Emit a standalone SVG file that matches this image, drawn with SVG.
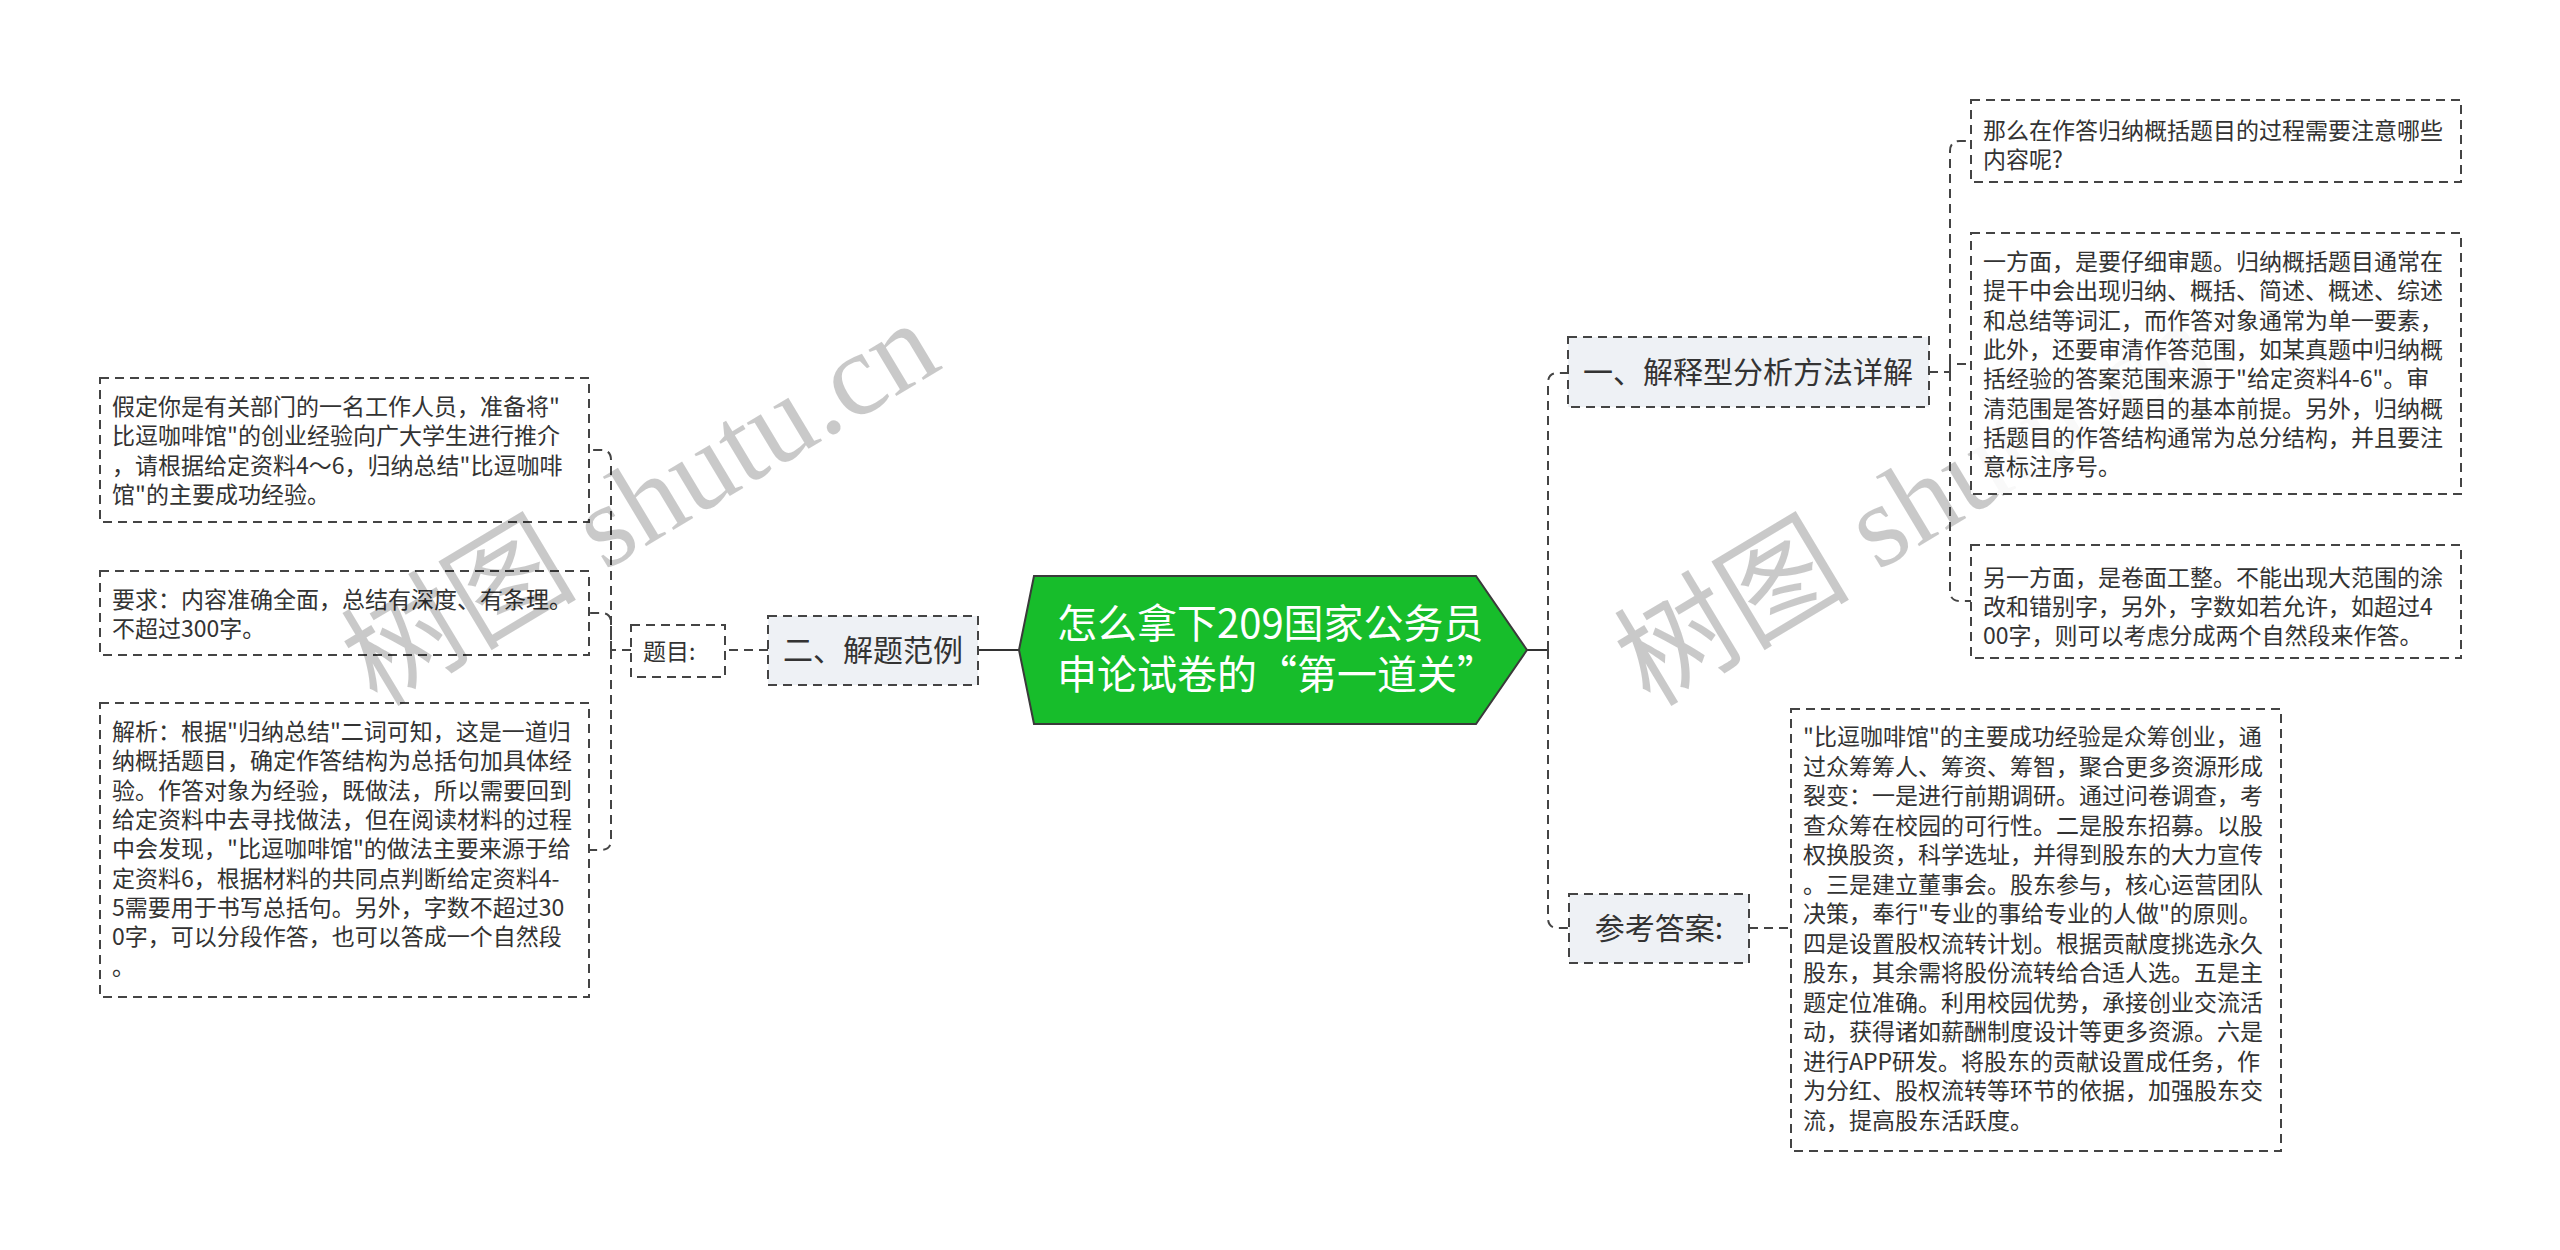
<svg xmlns="http://www.w3.org/2000/svg" width="2560" height="1250" viewBox="0 0 2560 1250">
<style>
.t{font-family:"Noto Sans CJK SC","Liberation Sans",sans-serif;font-size:23px;fill:#333}
.l1{font-family:"Noto Sans CJK SC","Liberation Sans",sans-serif;font-size:30px;fill:#333;text-anchor:middle}
.box{fill:#fff;fill-opacity:0.88;stroke:#444;stroke-width:2;stroke-dasharray:9 6}
.lb{fill:#eef1f5;stroke:#444;stroke-width:2;stroke-dasharray:9 6}
.c{fill:none;stroke:#444;stroke-width:2;stroke-dasharray:9 6}
.wm{font-family:"Liberation Serif","Noto Sans CJK SC",serif;font-size:118px;fill:#000;fill-opacity:0.21}
</style>
<rect width="2560" height="1250" fill="#fff"/>
<text class="wm" transform="translate(1650 708) rotate(-31)">树图 shutu.cn</text>
<g id="connectors">
<line x1="978" y1="650" x2="1019" y2="650" stroke="#333" stroke-width="2"/>
<line x1="1527" y1="650" x2="1548" y2="650" stroke="#333" stroke-width="2"/>
<path class="c" d="M768 650H725"/>
<path class="c" d="M631 650H611V460Q611 450 601 450H589"/>
<path class="c" d="M611 650V623Q611 613 601 613H589"/>
<path class="c" d="M611 650V840Q611 850 601 850H589"/>
<path class="c" d="M1548 650V383Q1548 373 1558 373H1568"/>
<path class="c" d="M1548 650V918Q1548 928 1558 928H1569"/>
<path class="c" d="M1929 372H1950V151Q1950 141 1960 141H1971"/>
<path class="c" d="M1950 372V364H1971"/>
<path class="c" d="M1950 372V591Q1950 601 1960 601H1971"/>
<path class="c" d="M1749 928H1791"/>
</g>
<g id="root">
<polygon points="1019,650 1034,576 1476,576 1527,650 1476,724 1034,724" fill="#17bd2b" stroke="#3a3a3a" stroke-width="2"/>
<text font-family="'Noto Sans CJK SC','Liberation Sans',sans-serif" font-size="40" fill="#fff"><tspan x="1057" y="638">怎么拿下209国家公务员</tspan><tspan x="1057" y="689">申论试卷的“第一道关”</tspan></text>
</g>
<g id="n-jiexi">
<rect class="lb" x="768" y="616" width="210" height="69"/>
<text class="l1" x="873" y="661">二、解题范例</text>
</g>
<g id="n-timu">
<rect class="box" x="631" y="625" width="94" height="52"/>
<text class="t" x="643" y="660">题目:</text>
</g>
<g id="n-l1">
<rect class="box" x="100" y="378" width="489" height="144"/>
<text class="t"><tspan x="112" y="415">假定你是有关部门的一名工作人员，准备将"</tspan><tspan x="112" y="444">比逗咖啡馆"的创业经验向广大学生进行推介</tspan><tspan x="112" y="474">，请根据给定资料4～6，归纳总结"比逗咖啡</tspan><tspan x="112" y="503">馆"的主要成功经验。</tspan></text>
</g>
<g id="n-l2">
<rect class="box" x="100" y="571" width="489" height="84"/>
<text class="t"><tspan x="112" y="608">要求：内容准确全面，总结有深度、有条理。</tspan><tspan x="112" y="637">不超过300字。</tspan></text>
</g>
<g id="n-l3">
<rect class="box" x="100" y="703" width="489" height="294"/>
<text class="t"><tspan x="112" y="740">解析：根据"归纳总结"二词可知，这是一道归</tspan><tspan x="112" y="769">纳概括题目，确定作答结构为总括句加具体经</tspan><tspan x="112" y="799">验。作答对象为经验，既做法，所以需要回到</tspan><tspan x="112" y="828">给定资料中去寻找做法，但在阅读材料的过程</tspan><tspan x="112" y="857">中会发现，"比逗咖啡馆"的做法主要来源于给</tspan><tspan x="112" y="887">定资料6，根据材料的共同点判断给定资料4-</tspan><tspan x="112" y="916">5需要用于书写总括句。另外，字数不超过30</tspan><tspan x="112" y="945">0字，可以分段作答，也可以答成一个自然段</tspan><tspan x="112" y="975">。</tspan></text>
</g>
<g id="n-yi">
<rect class="lb" x="1568" y="337" width="361" height="70"/>
<text class="l1" x="1748" y="383">一、解释型分析方法详解</text>
</g>
<g id="n-r1">
<rect class="box" x="1971" y="100" width="490" height="82"/>
<text class="t"><tspan x="1983" y="139">那么在作答归纳概括题目的过程需要注意哪些</tspan><tspan x="1983" y="168">内容呢?</tspan></text>
</g>
<g id="n-r2">
<rect class="box" x="1971" y="233" width="490" height="261"/>
<text class="t"><tspan x="1983" y="270">一方面，是要仔细审题。归纳概括题目通常在</tspan><tspan x="1983" y="299">提干中会出现归纳、概括、简述、概述、综述</tspan><tspan x="1983" y="329">和总结等词汇，而作答对象通常为单一要素，</tspan><tspan x="1983" y="358">此外，还要审清作答范围，如某真题中归纳概</tspan><tspan x="1983" y="387">括经验的答案范围来源于"给定资料4-6"。审</tspan><tspan x="1983" y="417">清范围是答好题目的基本前提。另外，归纳概</tspan><tspan x="1983" y="446">括题目的作答结构通常为总分结构，并且要注</tspan><tspan x="1983" y="475">意标注序号。</tspan></text>
</g>
<g id="n-r3">
<rect class="box" x="1971" y="545" width="490" height="113"/>
<text class="t"><tspan x="1983" y="586">另一方面，是卷面工整。不能出现大范围的涂</tspan><tspan x="1983" y="615">改和错别字，另外，字数如若允许，如超过4</tspan><tspan x="1983" y="644">00字，则可以考虑分成两个自然段来作答。</tspan></text>
</g>
<g id="n-cankao">
<rect class="lb" x="1569" y="894" width="180" height="69"/>
<text class="l1" x="1659" y="939">参考答案:</text>
</g>
<g id="n-answer">
<rect class="box" x="1791" y="709" width="490" height="442"/>
<text class="t"><tspan x="1803" y="745">"比逗咖啡馆"的主要成功经验是众筹创业，通</tspan><tspan x="1803" y="775">过众筹筹人、筹资、筹智，聚合更多资源形成</tspan><tspan x="1803" y="804">裂变：一是进行前期调研。通过问卷调查，考</tspan><tspan x="1803" y="834">查众筹在校园的可行性。二是股东招募。以股</tspan><tspan x="1803" y="863">权换股资，科学选址，并得到股东的大力宣传</tspan><tspan x="1803" y="893">。三是建立董事会。股东参与，核心运营团队</tspan><tspan x="1803" y="922">决策，奉行"专业的事给专业的人做"的原则。</tspan><tspan x="1803" y="952">四是设置股权流转计划。根据贡献度挑选永久</tspan><tspan x="1803" y="981">股东，其余需将股份流转给合适人选。五是主</tspan><tspan x="1803" y="1011">题定位准确。利用校园优势，承接创业交流活</tspan><tspan x="1803" y="1040">动，获得诸如薪酬制度设计等更多资源。六是</tspan><tspan x="1803" y="1070">进行APP研发。将股东的贡献设置成任务，作</tspan><tspan x="1803" y="1099">为分红、股权流转等环节的依据，加强股东交</tspan><tspan x="1803" y="1129">流，提高股东活跃度。</tspan></text>
</g>
<text class="wm" transform="translate(377 708) rotate(-31)">树图 shutu.cn</text>
</svg>
